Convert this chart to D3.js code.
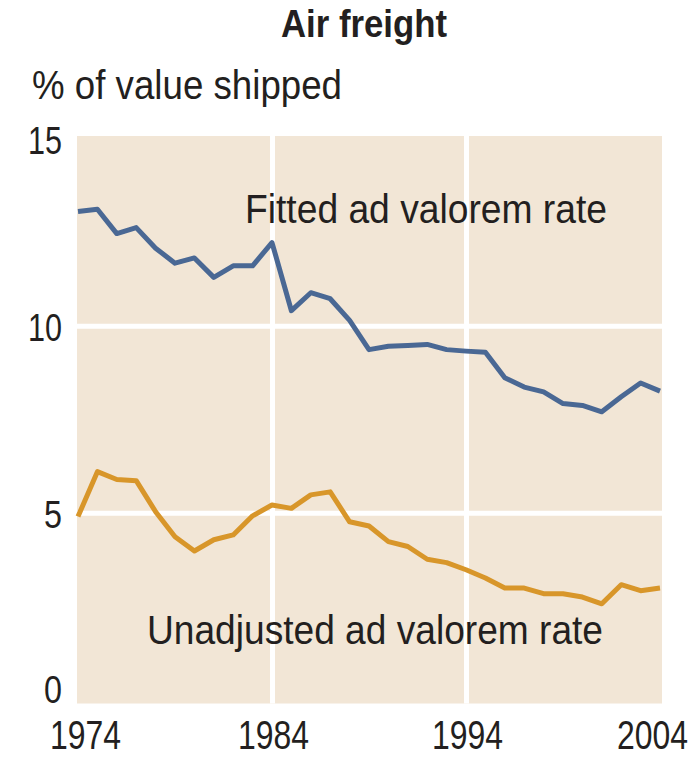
<!DOCTYPE html>
<html>
<head>
<meta charset="utf-8">
<script src="https://cdn.jsdelivr.net/npm/d3@7"></script>
<style>
  html, body { margin: 0; padding: 0; background: #fff; }
  svg { display: block; }
  text { font-family: "Liberation Sans", Arial, sans-serif; fill: #231f20; }
</style>
</head>
<body>
<script>
"use strict";

// Data

let years = d3.range(1974, 2005);

let fitted = [13.05, 13.11, 12.46, 12.62, 12.07, 11.67, 11.81, 11.29, 11.60, 11.60,
              12.22, 10.40, 10.88, 10.72, 10.14, 9.36, 9.45, 9.47, 9.50, 9.36,
              9.32, 9.29, 8.61, 8.36, 8.23, 7.92, 7.87, 7.70, 8.10, 8.47, 8.25];

let unadjusted = [4.90, 6.10, 5.89, 5.86, 5.03, 4.36, 3.98, 4.28, 4.41, 4.92,
                  5.21, 5.12, 5.48, 5.56, 4.76, 4.65, 4.23, 4.10, 3.76, 3.67,
                  3.48, 3.26, 2.99, 2.99, 2.84, 2.84, 2.75, 2.57, 3.08, 2.92, 2.99];

let xTicks = [1974, 1984, 1994, 2004];
let yTicks = [0, 5, 10, 15];
let gridX = [1984, 1994];
let gridY = [5, 10];

// Layout

let svgWidth = 694;
let svgHeight = 758;
let margin = {top: 138.5, right: 34, bottom: 58, left: 78};
let width = svgWidth - margin.left - margin.right;
let height = svgHeight - margin.top - margin.bottom;

let xScale = d3.scaleLinear()
    .domain([1974, 2004])
    .range([0, width]);

let yScale = d3.scaleLinear()
    .domain([0, 15])
    .range([height, 0]);

let svg = d3.select("body")
    .append("svg")
    .attr("width", svgWidth)
    .attr("height", svgHeight);

// the reference uses a condensed face, so texts are squeezed to its widths
svg.append("text")
    .attr("x", 364)
    .attr("y", 37)
    .attr("text-anchor", "middle")
    .attr("textLength", 166)
    .attr("lengthAdjust", "spacingAndGlyphs")
    .style("font-size", "38px")
    .style("font-weight", "bold")
    .text("Air freight");

svg.append("text")
    .attr("x", 32)
    .attr("y", 99)
    .attr("textLength", 310)
    .attr("lengthAdjust", "spacingAndGlyphs")
    .style("font-size", "40px")
    .text("% of value shipped");

let g = svg.append("g")
    .attr("transform", `translate(${margin.left}, ${margin.top})`);

// Background panel, a little larger than the data range
g.append("rect")
    .attr("x", -1)
    .attr("y", -2.5)
    .attr("width", width + 3)
    .attr("height", height + 6)
    .attr("fill", "#f2e6d6");

// Grid

let gridBottom = g.append("g")
    .attr("transform", `translate(0, ${height + 3.5})`)
    .call(d3.axisBottom(xScale).tickValues(gridX).tickSize(-(height + 6)).tickFormat(""));

let gridLeft = g.append("g")
    .call(d3.axisLeft(yScale).tickValues(gridY).tickSize(-(width + 2)).tickFormat(""));

g.selectAll(".domain").remove();
g.selectAll(".tick line")
    .attr("stroke", "#fff")
    .attr("stroke-width", 5);
gridLeft.selectAll(".tick line").attr("x1", -1).attr("x2", width + 2);

// Axis labels

let xAxis = g.append("g")
    .attr("transform", `translate(0, ${height})`)
    .call(d3.axisBottom(xScale).tickValues(xTicks).tickSize(0).tickFormat(d3.format("d")));

let yAxis = g.append("g")
    .call(d3.axisLeft(yScale).tickValues(yTicks).tickSize(0));

xAxis.select(".domain").remove();
yAxis.select(".domain").remove();

xAxis.selectAll("text")
    .style("font-size", "40px")
    .attr("y", 0)
    .attr("dy", "49px")
    .attr("text-anchor", d => d == 2004 ? "end" : "middle")
    .attr("dx", d => d == 1974 ? 7 : d == 2004 ? 27.5 : 1)
    .attr("textLength", 71)
    .attr("lengthAdjust", "spacingAndGlyphs");

yAxis.selectAll("text")
    .style("font-size", "39px")
    .attr("x", -16)
    .attr("dy", d => d == 0 ? "2px" : "15px")
    .attr("textLength", d => d >= 10 ? 34 : 18)
    .attr("lengthAdjust", "spacingAndGlyphs");

// Lines

let line = d3.line()
    .x((d, i) => xScale(years[i]))
    .y(d => yScale(d));

g.append("path")
    .datum(fitted)
    .attr("fill", "none")
    .attr("stroke", "#4a6894")
    .attr("stroke-width", 5)
    .attr("stroke-linejoin", "round")
    .attr("d", line);

g.append("path")
    .datum(unadjusted)
    .attr("fill", "none")
    .attr("stroke", "#d8962a")
    .attr("stroke-width", 5)
    .attr("stroke-linejoin", "round")
    .attr("d", line);

// Labels

g.append("text")
    .attr("x", 167)
    .attr("y", 84)
    .attr("textLength", 362)
    .attr("lengthAdjust", "spacingAndGlyphs")
    .style("font-size", "40px")
    .text("Fitted ad valorem rate");

g.append("text")
    .attr("x", 69)
    .attr("y", 505)
    .attr("textLength", 456)
    .attr("lengthAdjust", "spacingAndGlyphs")
    .style("font-size", "40px")
    .text("Unadjusted ad valorem rate");
</script>
</body>
</html>
